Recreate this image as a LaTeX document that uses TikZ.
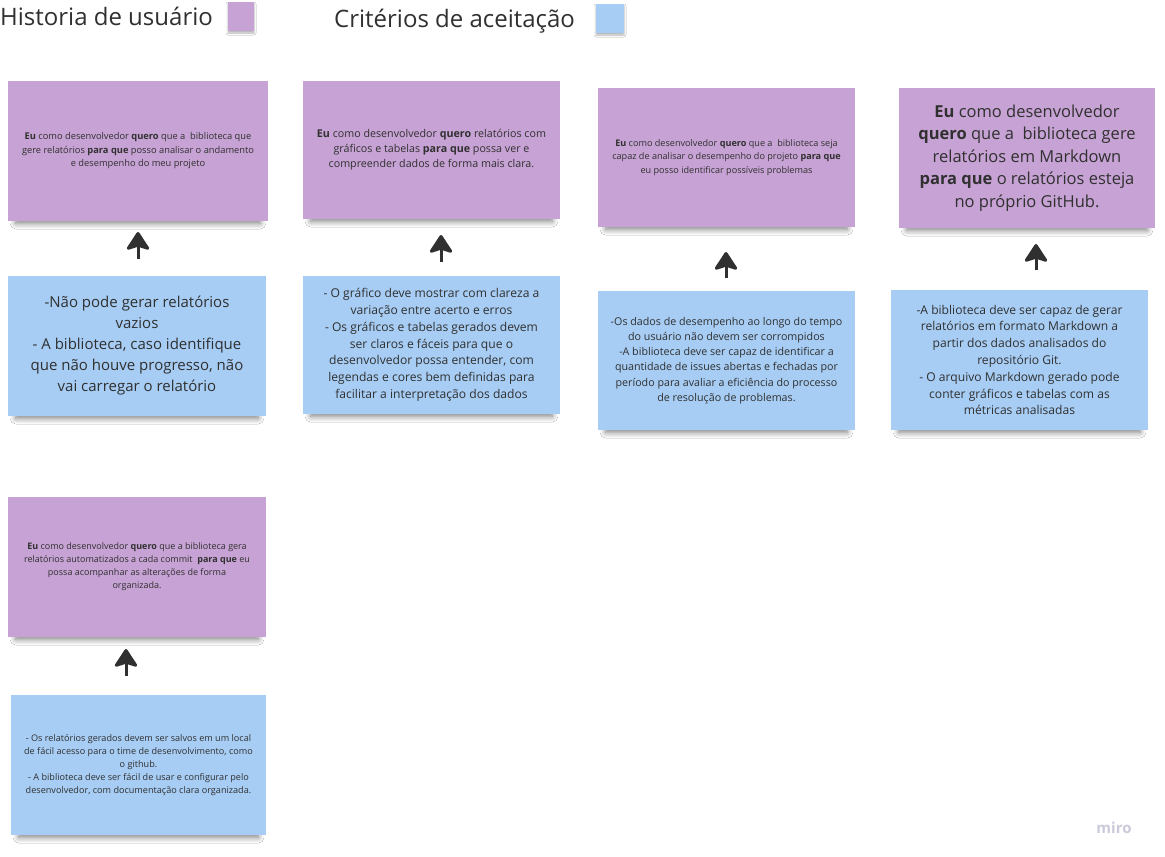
\documentclass[tikz,border=0pt]{standalone}
\usepackage{fontspec}
\setmainfont{Open Sans}
\usetikzlibrary{arrows.meta,shadows.blur}
\definecolor{story}{HTML}{C7A2D4}
\definecolor{crit}{HTML}{A7CDF4}
\definecolor{ink}{HTML}{303030}
\definecolor{logo}{HTML}{CACADA}
\tikzset{
  card/.style={inner sep=0pt, outer sep=0pt, align=center, text=ink,
    blur shadow={shadow xshift=0pt, shadow yshift=-7pt, shadow scale=0.94, shadow opacity=50, shadow blur radius=6pt, shadow blur steps=8}},
  storycard/.style={card, fill=story},
  critcard/.style={card, fill=crit},
  swatch/.style={inner sep=0pt, outer sep=0pt,
    blur shadow={shadow xshift=0pt, shadow yshift=-2pt, shadow opacity=30, shadow blur radius=2pt}},
  upar/.style={draw=ink, line width=3pt, -{Stealth[length=20pt,width=26pt,inset=4pt,round]}},
  header/.style={inner sep=0pt, text=ink, font=\fontsize{24}{28}\selectfont}
}
\begin{document}
\begin{tikzpicture}[x=1pt,y=-1pt]
\fill[white] (0,0) rectangle (1165,857);
\useasboundingbox (0,0) rectangle (1165,857);

% headers
\node[header, anchor=base west] (h1) at (0,25) {Historia de usuário};
\node[swatch, fill=story, minimum width=26pt, minimum height=29pt] (s1) at (241,16.5) {};
\node[header, anchor=base west] (h2) at (334,27) {Critérios de aceitação};
\node[swatch, fill=crit, minimum width=28pt, minimum height=29pt] (s2) at (610,18.5) {};

% story cards
\node[storycard, minimum width=260pt, minimum height=140pt, font=\fontsize{9.3}{13.5}\selectfont] (P1) at (138,151)
  {\textbf{Eu} como desenvolvedor \textbf{quero} que a\ \ biblioteca que\\ gere relatórios \textbf{para que} posso analisar o andamento\\ e desempenho do meu projeto};
\node[storycard, minimum width=257pt, minimum height=138pt, font=\fontsize{10.7}{15}\selectfont] (P2) at (431.5,150)
  {\textbf{Eu} como desenvolvedor \textbf{quero} relatórios com\\ gráficos e tabelas \textbf{para que} possa ver e\\ compreender dados de forma mais clara.};
\node[storycard, minimum width=257pt, minimum height=139pt, font=\fontsize{9.1}{13.5}\selectfont] (P3) at (726.5,157.5)
  {\textbf{Eu} como desenvolvedor \textbf{quero} que a\ \ biblioteca seja\\ capaz de analisar o desempenho do projeto \textbf{para que}\\ eu posso identificar possíveis problemas};
\node[storycard, minimum width=256pt, minimum height=140pt, font=\fontsize{16.5}{22.5}\selectfont] (P4) at (1027,158)
  {\textbf{Eu} como desenvolvedor\\ \textbf{quero} que a\ \ biblioteca gere\\ relatórios em Markdown\\ \textbf{para que} o relatórios esteja\\ no próprio GitHub.};
\node[storycard, minimum width=258pt, minimum height=140pt, font=\fontsize{9}{13}\selectfont] (P5) at (137,567)
  {\textbf{Eu} como desenvolvedor \textbf{quero} que a biblioteca gera\\ relatórios automatizados a cada commit\ \ \textbf{para que} eu\\ possa acompanhar as alterações de forma\\ organizada.};

% criteria cards
\node[critcard, minimum width=258pt, minimum height=140pt, font=\fontsize{15}{21}\selectfont] (B1) at (137,346)
  {-Não pode gerar relatórios\\ vazios\\ - A biblioteca, caso identifique\\ que não houve progresso, não\\ vai carregar o relatório};
\node[critcard, minimum width=257pt, minimum height=138pt, font=\fontsize{12.1}{16.8}\selectfont] (B2) at (431.5,345)
  {- O gráfico deve mostrar com clareza a\\ variação entre acerto e erros\\ - Os gráficos e tabelas gerados devem\\ ser claros e fáceis para que o\\ desenvolvedor possa entender, com\\ legendas e cores bem definidas para\\ facilitar a interpretação dos dados};
\node[critcard, minimum width=257pt, minimum height=139pt, font=\fontsize{10.7}{15.2}\selectfont] (B3) at (726.5,360.5)
  {-Os dados de desempenho ao longo do tempo\\ do usuário não devem ser corrompidos\\ -A biblioteca deve ser capaz de identificar a\\ quantidade de issues abertas e fechadas por\\ período para avaliar a eficiência do processo\\ de resolução de problemas.};
\node[critcard, minimum width=257pt, minimum height=140pt, font=\fontsize{12.1}{16.8}\selectfont] (B4) at (1019.5,360)
  {-A biblioteca deve ser capaz de gerar\\ relatórios em formato Markdown a\\ partir dos dados analisados do\\ repositório Git.\\ - O arquivo Markdown gerado pode\\ conter gráficos e tabelas com as\\ métricas analisadas};
\node[critcard, minimum width=255pt, minimum height=140pt, font=\fontsize{9.1}{12.8}\selectfont] (B5) at (138.5,765)
  {- Os relatórios gerados devem ser salvos em um local\\ de fácil acesso para o time de desenvolvimento, como\\ o github.\\ - A biblioteca deve ser fácil de usar e configurar pelo\\ desenvolvedor, com documentação clara organizada.};

% arrow columns
\coordinate (ax1) at (138,0);
\coordinate (ax2) at (441,0);
\coordinate (ax3) at (726,0);
\coordinate (ax4) at (1036,0);
\coordinate (ax5) at (126,0);

\draw[upar, shorten <=17pt, shorten >=11pt] (B1.north -| ax1) -- (P1.south -| ax1);
\draw[upar, shorten <=14pt, shorten >=16pt] (B2.north -| ax2) -- (P2.south -| ax2);
\draw[upar, shorten <=13pt, shorten >=25pt] (B3.north -| ax3) -- (P3.south -| ax3);
\draw[upar, shorten <=20pt, shorten >=16pt] (B4.north -| ax4) -- (P4.south -| ax4);
\draw[upar, shorten <=19pt, shorten >=12pt] (B5.north -| ax5) -- (P5.south -| ax5);

% watermark
\node[text=logo, font=\fontsize{15}{17}\selectfont\bfseries, inner sep=0pt] (logo) at (1114,828) {miro};
\end{tikzpicture}
\end{document}
